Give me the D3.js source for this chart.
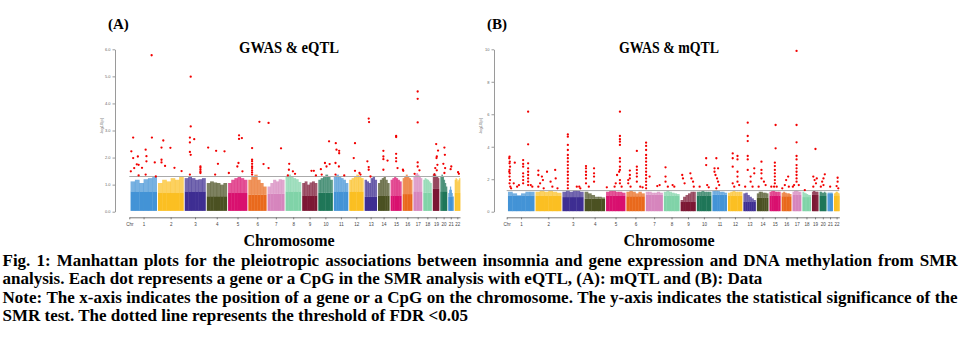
<!DOCTYPE html>
<meta charset="utf-8">
<style>
body { margin: 0; background: #fff; }
text { font-family: "Liberation Serif", "Times New Roman", serif; }
.axis text { font-family: "Liberation Sans", Arial, sans-serif; }
</style>
<svg width="977" height="344"></svg>
<script src="https://d3js.org/d3.v7.min.js"></script>
<script>

// chromosome layout (hg19 lengths, Mb)
var chrNames = ["1","2","3","4","5","6","7","8","9","10","11","12","13","14","15","16","17","18","19","20","21","22"];
var chrLen = [249.3, 243.2, 198.0, 191.2, 180.9, 171.1, 159.1, 146.4, 141.2, 135.5, 135.0, 133.9,
              115.2, 107.3, 102.5, 90.4, 81.2, 78.1, 59.1, 63.0, 48.1, 51.3];
var chrColours = ["#4393d6", "#fbbf22", "#3e2e92", "#4b5122", "#d9106f",
                  "#e9691c", "#d685bd", "#80d3a8", "#7c1834", "#1f7658"];

var yTicksA = [0, 1, 2, 3, 4, 5, 6];
var yTicksB = [0, 2, 4, 6, 8, 10];
var threshold = 1.3;

// top of the non-significant mass, 6 bins per chromosome (-log10 p)
var massA = [
  [1.12,1.18,1.06,1.20,1.24,1.28], [1.06,1.18,1.12,1.24,1.18,1.28], [1.24,1.30,1.24,1.18,1.20,1.24],
  [1.06,1.12,1.08,1.06,1.00,1.06], [1.06,1.18,1.24,1.30,1.24,1.18], [1.18,1.30,1.37,1.18,1.06,0.93],
  [0.93,1.06,1.18,1.12,1.20,1.18], [1.30,1.37,1.30,1.24,1.20,1.10], [1.06,1.12,1.00,1.08,1.12,1.06],
  [1.18,1.24,1.30,1.37,1.30,1.18], [1.30,1.37,1.30,1.24,1.18,1.06], [1.18,1.24,1.30,1.37,1.30,1.24],
  [1.18,1.12,1.06,1.24,1.30,1.18], [1.06,1.18,1.24,1.30,1.18,1.06], [1.18,1.24,1.30,1.24,1.18,1.12],
  [1.24,1.30,1.37,1.30,1.24,1.18], [1.30,1.37,1.43,1.37,1.30,1.24], [1.18,1.24,1.20,1.18,1.12,1.06],
  [1.37,1.43,1.37,1.30,1.30,1.24], [1.30,1.37,1.30,1.18,1.06,0.93], [0.69,0.81,0.93,0.81,0.69,0.57],
  [1.18,1.24,1.20,1.12,1.18,1.24]
];
var massB = [
  [1.23,1.13,0.92,1.13,1.23,1.23], [1.23,1.29,1.23,1.29,1.23,1.17], [1.23,1.33,1.23,1.33,1.29,1.23],
  [1.23,1.13,1.03,0.92,0.92,0.88], [1.23,1.29,1.29,1.23,1.23,1.17], [1.23,1.29,1.23,1.13,1.23,1.13],
  [1.23,1.23,1.17,1.17,1.23,1.17], [1.23,1.29,1.23,1.17,1.13,1.09], [0.72,0.92,1.03,1.13,1.23,1.23],
  [1.23,1.23,1.29,1.23,1.23,1.23], [1.29,1.33,1.29,1.23,1.23,1.17], [1.17,1.23,1.29,1.23,1.23,1.23],
  [1.13,1.17,1.03,0.92,0.82,0.72], [1.13,1.23,1.23,1.17,1.17,1.13], [1.23,1.29,1.29,1.23,1.23,1.23],
  [1.17,1.23,1.17,1.13,1.13,1.09], [1.23,1.29,1.33,1.29,1.23,1.23], [1.23,1.17,1.13,1.09,1.03,1.03],
  [1.23,1.29,1.29,1.23,1.23,1.23], [1.23,1.23,1.17,1.17,1.23,1.17], [1.17,1.17,1.17,1.17,1.17,1.17],
  [1.13,1.17,1.23,1.23,1.17,1.13]
];
// level up to which the mass looks solid (above it points thin out)
var solidA = [0.75, 0.69, 0.75, 0.57, 0.69, 0.63, 0.66, 0.75, 0.60, 0.70, 0.75,
              0.75, 0.55, 0.60, 0.60, 0.65, 0.75, 0.70, 0.85, 0.75, 0.55, 0.70];
var solidB = [1.00, 1.00, 0.90, 0.80, 1.00, 0.95, 1.05, 1.00, 0.60, 1.00, 1.05,
              1.00, 0.60, 0.85, 1.00, 0.95, 1.05, 0.90, 1.05, 1.00, 1.10, 1.00];

// significant hits: [chromosome, relative position in chromosome, -log10 p]
var sigA = [
  [1,0.03,2.23],[1,0.10,2.74],[1,0.01,1.49],[1,0.10,1.98],[1,0.14,1.61],[1,0.24,1.75],[1,0.28,2.04],
  [1,0.31,1.73],[1,0.44,1.62],[1,0.58,2.29],[1,0.61,2.05],[1,0.61,1.86],[1,0.58,1.37],[1,0.31,1.34],
  [1,0.81,5.78],[1,0.82,2.74],[1,0.93,1.82],[1,0.97,1.30],
  [2,0.14,2.37],[2,0.21,2.63],[2,0.14,1.92],[2,0.14,1.82],[2,0.28,1.69],[2,0.49,2.36],[2,0.65,1.62],[2,0.93,1.50],
  [3,0.29,4.99],[3,0.29,3.15],[3,0.25,2.74],[3,0.25,2.56],[3,0.46,2.68],[3,0.25,2.21],[3,0.29,2.10],
  [3,0.25,1.37],[3,0.76,1.67],[3,0.76,1.62],[3,0.76,1.55],[3,0.76,1.48],[3,0.76,1.43],
  [4,0.07,2.37],[4,0.47,2.25],[4,0.56,1.77],[4,0.42,1.37],[4,0.89,2.23],
  [5,0.04,1.43],[5,0.58,2.82],[5,0.58,2.69],[5,0.73,2.72],[5,0.49,1.67],[5,0.55,1.80],[5,0.76,1.49],
  [6,0.21,2.35],[6,0.21,1.92],[6,0.21,1.86],[6,0.21,1.77],[6,0.21,1.67],[6,0.21,1.61],[6,0.21,1.53],
  [6,0.21,1.45],[6,0.21,1.37],[6,0.62,3.32],[6,0.85,1.76],
  [7,0.06,3.28],[7,0.06,1.61],[7,0.81,2.34],
  [8,0.24,1.77],[8,0.22,1.55],[8,0.48,1.49],[8,0.62,1.40],[8,0.15,1.34],
  [9,0.63,1.51],[9,0.79,1.51],[9,0.93,1.34],
  [10,0.18,1.57],[10,0.47,1.80],[10,0.58,1.67],[10,0.24,1.37],[10,0.80,1.76],[10,0.76,2.60],
  [11,0.14,2.53],[11,0.19,2.29],[11,0.38,2.25],[11,0.38,2.16],[11,0.12,1.80],[11,0.36,1.67],[11,0.12,1.37],[11,0.74,1.34],
  [12,0.41,2.53],[12,0.32,1.98],[12,0.41,1.51],[12,0.73,1.43],[12,0.80,1.37],
  [13,0.34,3.44],[13,0.37,3.31],[13,0.23,1.86],[13,0.34,1.65],[13,0.34,1.55],[13,0.49,1.30],
  [14,0.48,2.25],[14,0.48,2.04],[14,0.48,1.94],[14,0.48,1.55],[14,0.85,1.89],
  [15,0.52,2.80],[15,0.52,2.76],[15,0.52,2.14],[15,0.52,1.98],[15,0.52,1.86],[15,0.65,1.61],
  [16,0.03,1.55],[16,0.07,1.51],
  [17,0.50,4.44],[17,0.50,4.17],[17,0.50,3.30],[17,0.50,1.82],[17,0.50,1.67],[17,0.71,1.53],[17,0.14,1.40],
  [19,0.55,2.50],[19,0.85,2.26],[19,0.65,2.04],[19,0.60,1.98],[19,0.75,1.73],[19,0.40,1.61],[19,0.65,1.53],[19,0.25,1.37],
  [20,0.62,2.37],[20,0.69,2.10],[20,0.46,1.77],[20,0.73,1.61],[20,0.62,1.43],
  [21,0.60,1.67],[21,0.47,1.57],
  [22,0.64,1.46],[22,0.79,1.40]
];
var sigB = [
  [1,0.06,3.39],[1,0.05,3.29],[1,0.07,3.08],[1,0.06,2.98],[1,0.08,2.77],[1,0.06,2.57],[1,0.05,2.46],
  [1,0.07,2.36],[1,0.06,2.16],[1,0.08,1.95],[1,0.06,1.75],[1,0.09,1.54],[1,0.12,1.44],[1,0.26,3.02],
  [1,0.22,1.75],[1,0.35,1.54],[1,0.58,3.18],[1,0.58,2.94],[1,0.58,2.77],[1,0.58,2.36],[1,0.58,2.16],
  [1,0.58,1.95],[1,0.58,1.75],[1,0.77,6.16],[1,0.77,4.15],[1,0.77,2.98],[1,0.77,2.67],[1,0.77,2.46],
  [1,0.77,2.26],[1,0.77,2.05],[1,0.77,1.85],[1,0.77,1.64],[1,0.87,1.64],[1,0.93,1.54],[1,0.42,1.64],
  [2,0.11,2.53],[2,0.11,2.26],[2,0.25,2.16],[2,0.29,1.95],[2,0.18,1.75],[2,0.11,1.54],[2,0.45,2.46],
  [2,0.59,1.85],[2,0.77,2.57],[2,0.79,2.05],[2,0.32,1.44],[2,0.66,1.54],[2,0.86,1.44],
  [3,0.26,4.76],[3,0.26,4.62],[3,0.26,4.11],[3,0.26,3.80],[3,0.26,3.49],[3,0.26,3.29],[3,0.26,3.08],
  [3,0.26,2.87],[3,0.26,2.67],[3,0.26,2.46],[3,0.26,2.26],[3,0.26,2.05],[3,0.26,1.85],[3,0.26,1.64],
  [3,0.26,1.44],[3,0.69,1.54],[3,0.81,1.54],[3,0.86,1.44],
  [4,0.07,2.81],[4,0.07,2.67],[4,0.07,2.46],[4,0.07,2.26],[4,0.07,2.05],[4,0.07,1.75],[4,0.47,2.67],
  [4,0.47,2.36],[4,0.47,2.16],[4,0.47,1.85],[4,0.21,1.54],
  [5,0.04,1.50],[5,0.51,1.75],[5,0.58,2.26],[5,0.69,2.46],[5,0.73,6.16],[5,0.73,4.66],[5,0.73,4.46],
  [5,0.73,4.31],[5,0.73,4.11],[5,0.73,3.29],[5,0.73,3.08],[5,0.73,2.77],[5,0.73,2.57],[5,0.73,1.95],
  [5,0.73,1.75],[5,0.82,1.54],[5,0.45,1.54],
  [6,0.19,2.53],[6,0.19,2.26],[6,0.19,2.05],[6,0.10,1.95],[6,0.10,1.75],[6,0.23,1.54],[6,0.58,3.74],
  [6,0.58,2.77],[6,0.58,2.57],[6,0.58,2.36],[6,0.58,2.16],[6,0.58,1.85],[6,0.77,1.54],[6,0.90,1.50],
  [7,0.02,4.25],[7,0.02,4.05],[7,0.02,3.80],[7,0.02,3.49],[7,0.02,3.29],[7,0.02,3.08],[7,0.02,2.87],
  [7,0.02,2.67],[7,0.02,2.46],[7,0.02,2.26],[7,0.02,2.05],[7,0.02,1.85],[7,0.02,1.64],[7,0.02,1.44],
  [7,0.23,2.16],[7,0.69,1.58],[7,0.83,1.64],
  [8,0.11,2.73],[8,0.11,2.16],[8,0.11,1.85],[8,0.26,1.54],[8,0.57,1.64],[8,0.68,1.54],
  [9,0.11,2.26],[9,0.16,2.05],[9,0.27,1.75],[9,0.66,2.36],[9,0.73,2.05],[9,0.84,1.85],[9,0.89,1.54],
  [10,0.20,1.54],[10,0.66,3.29],[10,0.66,2.87],[10,0.73,1.64],[10,0.84,1.50],
  [11,0.15,2.67],[11,0.28,3.29],[11,0.40,2.67],[11,0.15,2.46],[11,0.22,2.26],[11,0.33,2.05],[11,0.40,1.85],
  [11,0.48,1.64],[11,0.28,1.44],
  [12,0.34,3.59],[12,0.34,3.29],[12,0.34,2.77],[12,0.68,3.43],[12,0.68,3.22],[12,0.68,2.46],[12,0.68,2.16],
  [12,0.68,1.85],[12,0.80,1.64],[12,0.34,1.75],[12,0.45,1.54],
  [13,0.36,5.48],[13,0.36,4.66],[13,0.36,4.35],[13,0.36,3.43],[13,0.36,3.22],[13,0.36,2.57],[13,0.60,2.16],
  [13,0.60,1.85],[13,0.90,2.67],[13,0.90,2.36],[13,0.15,1.54],[13,0.76,1.54],
  [14,0.41,3.08],[14,0.41,2.57],[14,0.41,2.36],[14,0.41,2.05],[14,0.63,1.85],[14,0.78,1.64],[14,0.16,1.54],
  [15,0.57,5.34],[15,0.57,3.90],[15,0.50,3.02],[15,0.50,2.81],[15,0.50,2.57],[15,0.50,2.36],[15,0.50,2.16],
  [15,0.50,1.95],[15,0.50,1.75],[15,0.43,1.54],[15,0.67,1.54],[15,0.17,1.54],
  [16,0.07,1.44],[16,0.48,1.95],[16,0.69,2.16],[16,0.76,1.54],[16,0.34,1.64],
  [17,0.48,9.90],[17,0.48,5.34],[17,0.48,4.27],[17,0.48,3.43],[17,0.48,3.22],[17,0.48,2.87],[17,0.48,2.67],
  [17,0.48,2.46],[17,0.48,2.26],[17,0.48,2.05],[17,0.48,1.85],[17,0.74,1.64],[17,0.19,1.64],[17,0.05,1.54],
  [18,0.30,1.33],
  [19,0.57,3.86],[19,0.22,2.16],[19,0.43,1.95],[19,0.78,2.05],[19,0.65,1.75],[19,0.22,1.54],
  [20,0.80,2.30],[20,0.60,2.05],[20,0.40,1.85],[20,0.60,1.64],[20,0.20,1.54],
  [21,0.53,1.54],
  [22,0.69,2.09],[22,0.69,1.85],[22,0.50,1.58],[22,0.81,1.44]
];

var captionLines = [
  "Fig. 1: Manhattan plots for the pleiotropic associations between insomnia and gene expression and DNA methylation from SMR",
  "analysis. Each dot represents a gene or a CpG in the SMR analysis with eQTL, (A): mQTL and (B): Data",
  "Note: The x-axis indicates the position of a gene or a CpG on the chromosome. The y-axis indicates the statistical significance of the",
  "SMR test. The dotted line represents the threshold of FDR <0.05"
];
var captionJustify = [true, false, true, false];

var svg = d3.select("svg");

// cumulative chromosome starts with a small gap between them
var gap = 13;
var chrStart = [];
var acc = 0;
chrLen.forEach(function(l, i) { chrStart.push(acc); acc += l + gap; });
var genomeEnd = acc - gap;

function drawPanel(p) {
  var x = d3.scaleLinear().domain([-12, genomeEnd]).range(p.xRange);
  var y = d3.scaleLinear().domain([0, p.yMax]).range([211.7, 49.3]);
  var g = svg.append("g");

  // dense non-significant points: solid core, thinner speckled top
  p.mass.forEach(function(bins, i) {
    var bw = chrLen[i] / bins.length;
    var solid = p.solid[i];
    bins.forEach(function(v, j) {
      var x0 = x(chrStart[i] + j * bw), x1 = x(chrStart[i] + (j + 1) * bw);
      g.append("rect")
        .attr("x", x0)
        .attr("width", x1 - x0 + 0.4)
        .attr("y", y(solid))
        .attr("height", y(0.03) - y(solid))
        .style("fill", chrColours[i % 10]);
      g.append("rect")
        .attr("x", x0)
        .attr("width", x1 - x0 + 0.4)
        .attr("y", y(v))
        .attr("height", y(solid) - y(v))
        .style("fill", chrColours[i % 10])
        .style("fill-opacity", 0.72);
    });
  });

  // threshold
  g.append("line")
    .attr("x1", p.xRange[0]).attr("x2", p.xRange[1])
    .attr("y1", y(threshold)).attr("y2", y(threshold))
    .style("stroke", "#aaa").style("stroke-width", 1);

  // significant
  g.selectAll("circle.sig").data(p.sig).enter().append("circle")
    .attr("class", "sig")
    .attr("cx", function(d) { return x(chrStart[d[0] - 1] + d[1] * chrLen[d[0] - 1]); })
    .attr("cy", function(d) { return y(d[2]); })
    .attr("r", 1.15)
    .style("fill", "#f20000");

  // y axis
  var ya = g.append("g").attr("class", "axis")
    .attr("transform", "translate(" + p.yAxisX + ",0)")
    .call(d3.axisLeft(y).tickValues(p.yTicks).tickSize(2.5).tickSizeOuter(0).tickPadding(2));
  ya.select(".domain").style("stroke", "#9a9a9a");
  ya.selectAll(".tick line").style("stroke", "#9a9a9a");
  ya.selectAll(".tick text").style("font-size", "4px").style("fill", "#666");

  // x axis
  var tv = [-12].concat(chrLen.map(function(l, i) { return chrStart[i] + l / 2; }));
  var labels = ["Chr"].concat(chrNames);
  var xa = g.append("g").attr("class", "axis")
    .attr("transform", "translate(0,217.3)")
    .call(d3.axisBottom(x).tickValues(tv).tickSize(2).tickSizeOuter(0).tickPadding(4)
      .tickFormat(function(d, i) { return labels[i]; }));
  xa.select(".domain").style("stroke", "#777");
  xa.selectAll(".tick line").style("stroke", "#777");
  xa.selectAll(".tick text").style("font-size", "4.5px").style("fill", "#444");

  // labels
  g.append("text")
    .attr("transform", "translate(" + (p.yAxisX - 12) + ",126) rotate(-90)")
    .attr("text-anchor", "middle")
    .style("font-family", "Liberation Sans, Arial, sans-serif")
    .style("font-size", "4px").style("fill", "#666")
    .text("-log10(p)");

  g.append("text")
    .attr("x", p.titleX).attr("y", 52.7)
    .attr("text-anchor", "middle")
    .style("font-size", "16px").style("font-weight", "bold")
    .attr("textLength", 100).attr("lengthAdjust", "spacingAndGlyphs")
    .text(p.title);

  g.append("text")
    .attr("x", p.tagX).attr("y", 29.3)
    .style("font-size", "15px").style("font-weight", "bold")
    .text(p.tag);

  g.append("text")
    .attr("x", p.titleX).attr("y", 246)
    .attr("text-anchor", "middle")
    .style("font-family", "Liberation Serif, serif")
    .style("font-size", "16px").style("font-weight", "bold")
    .text("Chromosome");
}

drawPanel({ mass: massA, solid: solidA, sig: sigA, yMax: 6, yTicks: yTicksA, yAxisX: 115,
            xRange: [129.3, 460], titleX: 289, title: "GWAS & eQTL", tagX: 108, tag: "(A)" });
drawPanel({ mass: massB, solid: solidB, sig: sigB, yMax: 10, yTicks: yTicksB, yAxisX: 494,
            xRange: [506.7, 839.3], titleX: 669, title: "GWAS & mQTL", tagX: 487, tag: "(B)" });

// caption, full lines justified to the right margin
var captionLeft = 2.5, captionRight = 957.5;
captionLines.forEach(function(t, i) {
  var txt = svg.append("text")
    .attr("x", captionLeft).attr("y", 266 + i * 18.4)
    .style("font-family", "Liberation Serif, serif")
    .style("font-size", "17px").style("font-weight", "bold")
    .text(t);
  if (captionJustify[i]) {
    var natural = txt.node().getComputedTextLength();
    var spaces = t.split(" ").length - 1;
    txt.style("word-spacing", Math.max(0, (captionRight - captionLeft - natural) / spaces) + "px");
  }
});

</script>
